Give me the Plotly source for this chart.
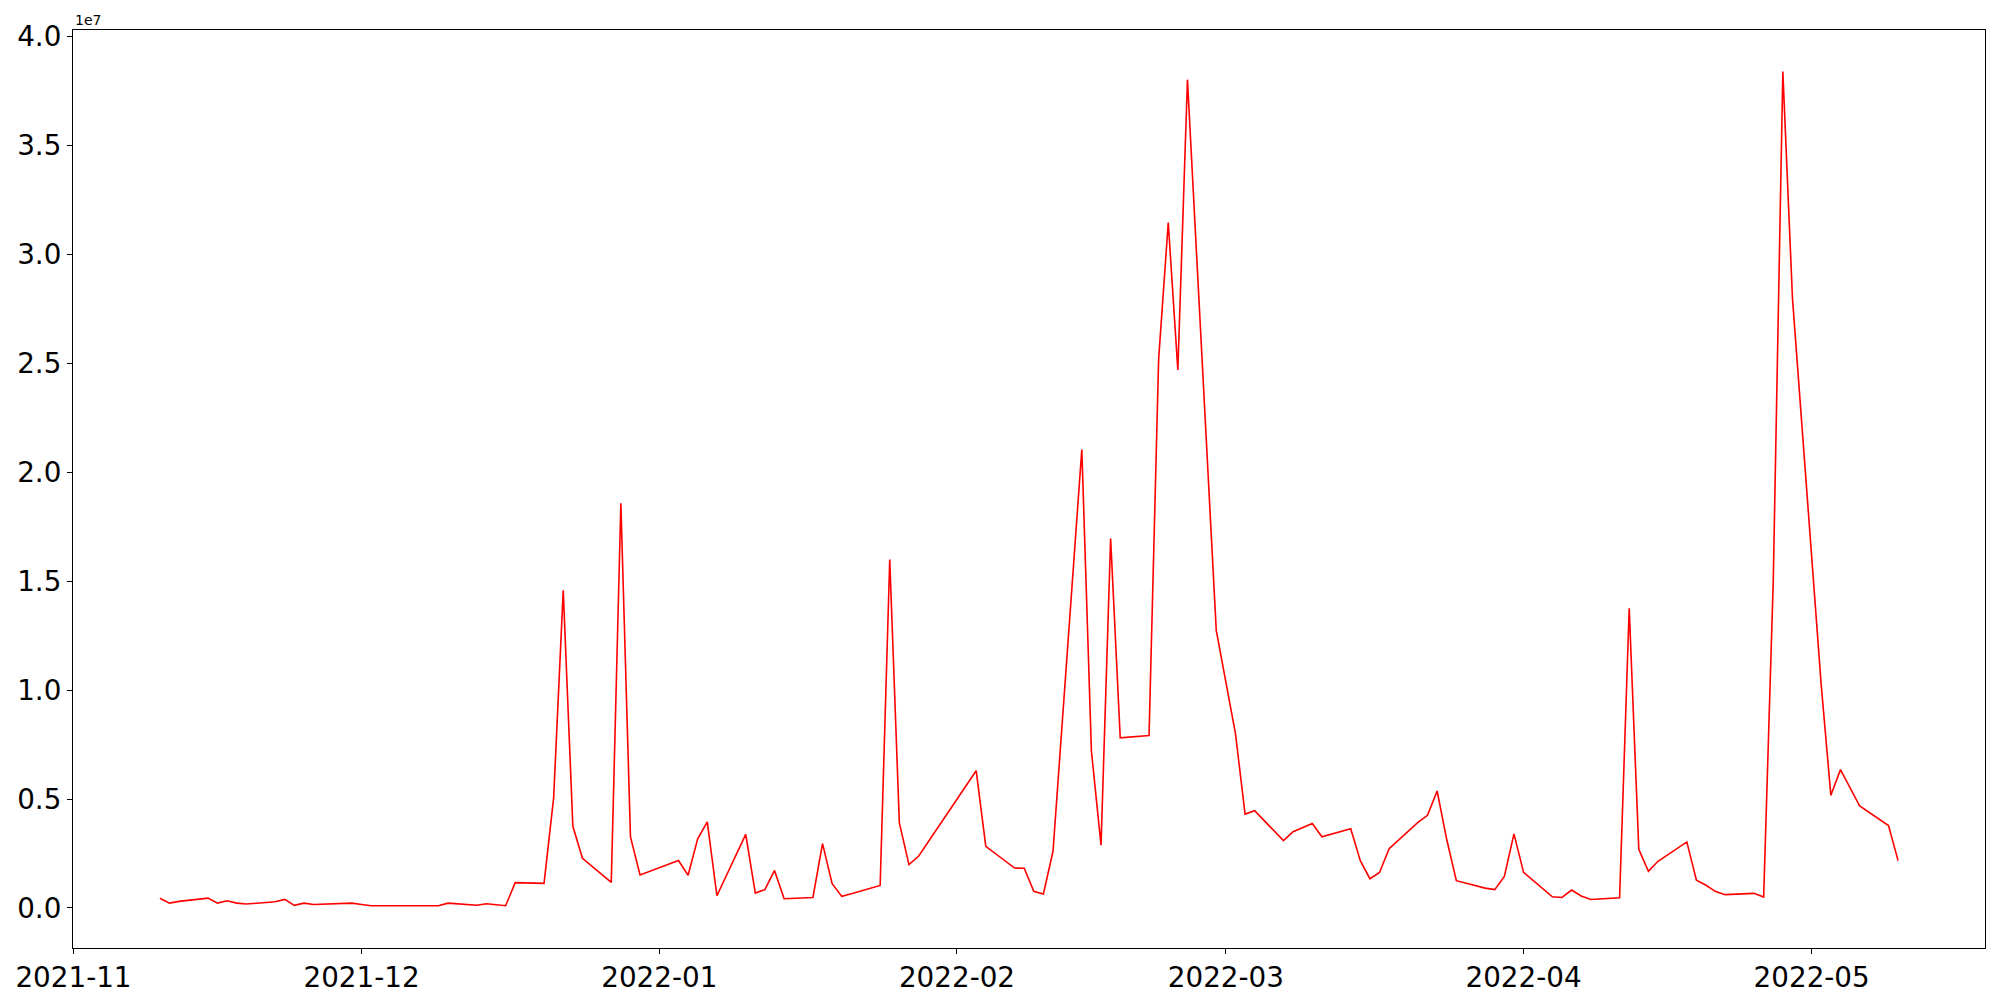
import plotly.graph_objects as go

dates = [
    "2021-11-10", "2021-11-11", "2021-11-12", "2021-11-15", "2021-11-16", "2021-11-17", "2021-11-18", "2021-11-19",
    "2021-11-22", "2021-11-23", "2021-11-24", "2021-11-25", "2021-11-26", "2021-11-29", "2021-11-30",
    "2021-12-01", "2021-12-02", "2021-12-03", "2021-12-06", "2021-12-07", "2021-12-08", "2021-12-09", "2021-12-10",
    "2021-12-13", "2021-12-14", "2021-12-15", "2021-12-16", "2021-12-17", "2021-12-20", "2021-12-21", "2021-12-22",
    "2021-12-23", "2021-12-24", "2021-12-27", "2021-12-28", "2021-12-29", "2021-12-30",
    "2022-01-03", "2022-01-04", "2022-01-05", "2022-01-06", "2022-01-07", "2022-01-10", "2022-01-11", "2022-01-12",
    "2022-01-13", "2022-01-14", "2022-01-17", "2022-01-18", "2022-01-19", "2022-01-20", "2022-01-21", "2022-01-24",
    "2022-01-25", "2022-01-26", "2022-01-27", "2022-01-28",
    "2022-02-03", "2022-02-04", "2022-02-07", "2022-02-08", "2022-02-09", "2022-02-10", "2022-02-11", "2022-02-14",
    "2022-02-15", "2022-02-16", "2022-02-17", "2022-02-18", "2022-02-21", "2022-02-22", "2022-02-23", "2022-02-24",
    "2022-02-25", "2022-02-28",
    "2022-03-02", "2022-03-03", "2022-03-04", "2022-03-07", "2022-03-08", "2022-03-10", "2022-03-11", "2022-03-14",
    "2022-03-15", "2022-03-16", "2022-03-17", "2022-03-18", "2022-03-21", "2022-03-22", "2022-03-23", "2022-03-24",
    "2022-03-25", "2022-03-28", "2022-03-29", "2022-03-30", "2022-03-31",
    "2022-04-01", "2022-04-04", "2022-04-05", "2022-04-06", "2022-04-07", "2022-04-08", "2022-04-11", "2022-04-12",
    "2022-04-13", "2022-04-14", "2022-04-15", "2022-04-18", "2022-04-19", "2022-04-20", "2022-04-21", "2022-04-22",
    "2022-04-25", "2022-04-26", "2022-04-27", "2022-04-28", "2022-04-29",
    "2022-05-02", "2022-05-03", "2022-05-04", "2022-05-06", "2022-05-09", "2022-05-10",
]

values = [
    440000, 220000, 300000, 450000, 220000, 330000, 220000, 180000,
    280000, 390000, 120000, 220000, 160000, 200000, 220000,
    160000, 100000, 100000, 100000, 130000, 100000, 100000, 220000,
    120000, 190000, 160000, 100000, 1160000, 1130000, 5050000, 14580000,
    3750000, 2280000, 1170000, 18580000, 3260000, 1510000,
    2180000, 1500000, 3170000, 3950000, 560000, 3380000, 680000, 840000,
    1720000, 420000, 480000, 2950000, 1110000, 530000, 650000, 1030000,
    16000000, 3900000, 1990000, 2370000,
    6300000, 2830000, 1830000, 1820000, 760000, 640000, 2600000, 21050000,
    7200000, 2880000, 16960000, 7810000, 7920000, 25200000, 31470000, 24700000,
    38030000, 12740000,
    8000000, 4310000, 4460000, 3090000, 3500000, 3880000, 3270000, 3640000,
    2170000, 1340000, 1630000, 2720000, 3930000, 4250000, 5370000, 3140000,
    1250000, 910000, 840000, 1450000, 3400000,
    1630000, 510000, 480000, 820000, 550000, 390000, 470000, 13760000,
    2690000, 1680000, 2140000, 3030000, 1270000, 1040000, 750000, 610000,
    670000, 500000, 15000000, 38400000, 28000000,
    10200000, 5170000, 6350000, 4680000, 3780000, 2170000,
]

x_tick_vals = ["2021-11-01", "2021-12-01", "2022-01-01", "2022-02-01", "2022-03-01", "2022-04-01", "2022-05-01"]
x_tick_text = ["2021-11", "2021-12", "2022-01", "2022-02", "2022-03", "2022-04", "2022-05"]
y_tick_vals = [0, 5e6, 1e7, 1.5e7, 2e7, 2.5e7, 3e7, 3.5e7, 4e7]
y_tick_text = ["0.0", "0.5", "1.0", "1.5", "2.0", "2.5", "3.0", "3.5", "4.0"]

font_family = "DejaVu Sans"

fig = go.Figure()
fig.add_trace(go.Scatter(
    x=dates, y=values, mode="lines",
    line=dict(color="#ff0000", width=1.6),
    showlegend=False,
))

axis_common = dict(
    showline=True, linecolor="black", linewidth=1.1, mirror=True,
    ticks="outside", ticklen=5, tickwidth=1.1, tickcolor="black",
    showgrid=False, zeroline=False, automargin=False,
    tickfont=dict(family=font_family, size=27.8, color="black"),
)

fig.update_layout(
    width=2000, height=1000,
    margin=dict(l=73, r=15, t=30, b=52, pad=0),
    plot_bgcolor="white", paper_bgcolor="white",
    font=dict(family=font_family, color="black"),
    xaxis=dict(
        type="date",
        range=["2021-10-31 22:48", "2022-05-19 01:12"],
        tickmode="array", tickvals=x_tick_vals, ticktext=x_tick_text,
        **axis_common,
    ),
    yaxis=dict(
        range=[-1.84e6, 4.031e7],
        tickmode="array", tickvals=y_tick_vals, ticktext=y_tick_text,
        **axis_common,
    ),
    annotations=[dict(
        text="1e7", xref="paper", yref="paper", x=0, y=1,
        xanchor="left", yanchor="bottom", showarrow=False,
        font=dict(family=font_family, size=14, color="black"),
        yshift=0,
    )],
)

fig.write_html("out.html", config={"displayModeBar": False})

# remove the browser's default page margin so the figure sits at (0, 0)
with open("out.html", "r", encoding="utf-8") as f:
    html = f.read()
html = html.replace("<head>", "<head><style>html,body{margin:0;padding:0;overflow:hidden;}</style>", 1)
with open("out.html", "w", encoding="utf-8") as f:
    f.write(html)
